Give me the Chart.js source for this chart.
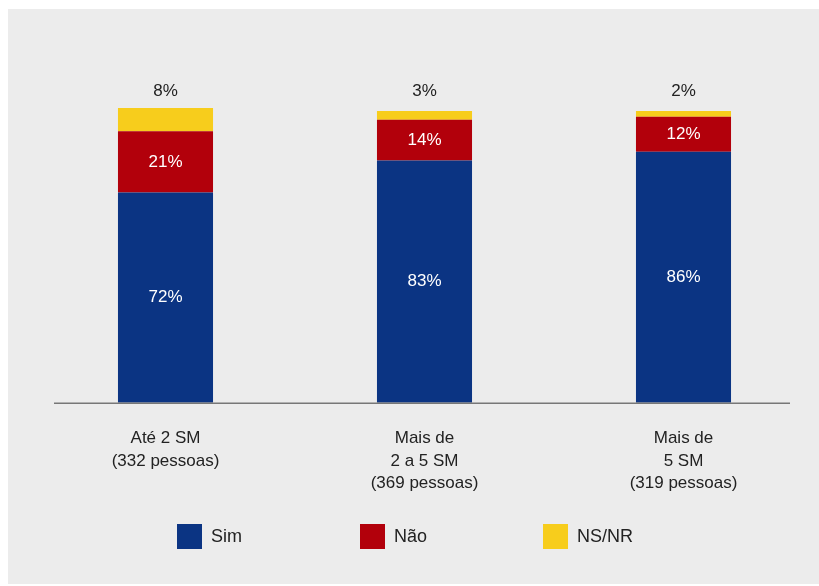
<!DOCTYPE html>
<html>
<head>
<meta charset="UTF-8">
<title>Sim / Não / NS/NR por faixa de renda</title>
<script src="https://cdn.jsdelivr.net/npm/chart.js@4.4.1/dist/chart.umd.min.js"></script>
<style>
body {
  margin: 0;
  background: #ffffff;
  font-family: "Liberation Sans", Arial, Helvetica, sans-serif;
}
#panel {
  position: absolute;
  left: 8px; top: 9px;
  width: 811px; height: 575px;
  background: #ececec;
}
#wrap {
  position: absolute;
  left: 0; top: 0;
  width: 819px; height: 586px;
}
.legend {
  position: absolute;
  top: 524px;
  left: 177px;
  display: flex;
}
.legend div {
  width: 183px;
  display: flex;
  align-items: center;
  font-size: 18px;
  color: #222;
}
.legend span {
  display: inline-block;
  width: 25px; height: 25px;
  margin-right: 9px;
}
</style>
</head>
<body>
<div id="panel"></div>
<div id="wrap"><canvas id="myChart" width="819" height="586"></canvas></div>
<div class="legend" id="legend"></div>
<script>
// categories (income bands) and share of answers, in %
var labels = [
  ["Até 2 SM", "(332 pessoas)"],
  ["Mais de", "2 a 5 SM", "(369 pessoas)"],
  ["Mais de", "5 SM", "(319 pessoas)"]
];
var sim  = [72, 83, 86];
var nao  = [21, 14, 12];
var nsnr = [8, 3, 2];

var names = ["Sim", "Não", "NS/NR"];
var colors = ["#0b3483", "#b2000b", "#f7cd1c"];

// legend drawn as html, same colours as bars
var leg = document.getElementById("legend");
for (var i = 0; i < names.length; i++) {
  leg.innerHTML += '<div><span style="background:' + colors[i] + '"></span>' + names[i] + '</div>';
}

// value labels: inside for Sim/Não, above the bar for NS/NR
var valueLabels = {
  id: "valueLabels",
  afterDatasetsDraw: function(chart) {
    var ctx = chart.ctx;
    var top = chart.chartArea.top;
    ctx.save();
    ctx.font = '17px "Liberation Sans", Arial, sans-serif';
    ctx.textAlign = "center";
    ctx.textBaseline = "middle";
    chart.data.datasets.forEach(function(ds, di) {
      var meta = chart.getDatasetMeta(di);
      meta.data.forEach(function(bar, j) {
        var txt = ds.data[j] + "%";
        if (di < 2) {
          ctx.fillStyle = "#ffffff";
          ctx.fillText(txt, bar.x, (bar.y + bar.base) / 2);
        } else {
          ctx.fillStyle = "#222222";
          ctx.fillText(txt, bar.x, top - 17);
        }
      });
    });
    ctx.restore();
  }
};

// gray baseline under the bars
var baseLine = {
  id: "baseLine",
  afterDatasetsDraw: function(chart) {
    var a = chart.chartArea, ctx = chart.ctx;
    ctx.save();
    ctx.strokeStyle = "#777777";
    ctx.lineWidth = 1.5;
    ctx.beginPath();
    ctx.moveTo(a.left + 18, a.bottom + 0.5);
    ctx.lineTo(a.right - 23, a.bottom + 0.5);
    ctx.stroke();
    ctx.restore();
  }
};

var datasets = [sim, nao, nsnr].map(function(d, i) {
  return {
    label: names[i],
    data: d,
    backgroundColor: colors[i],
    borderWidth: 0,
    categoryPercentage: 1,
    barPercentage: 0.367
  };
});

new Chart(document.getElementById("myChart"), {
  type: "bar",
  data: { labels: labels, datasets: datasets },
  options: {
    responsive: false,
    animation: false,
    layout: { padding: { left: 36, right: 6, top: 108, bottom: 67 } },
    plugins: { legend: { display: false }, tooltip: { enabled: false } },
    scales: {
      x: {
        stacked: true,
        grid: { display: false, drawTicks: false },
        border: { display: false },
        ticks: {
          color: "#222222",
          padding: 25,
          font: { family: '"Liberation Sans", Arial, sans-serif', size: 17, lineHeight: 1.3 }
        }
      },
      y: {
        stacked: true,
        display: false,
        min: 0,
        max: 101
      }
    }
  },
  plugins: [valueLabels, baseLine]
});
</script>
</body>
</html>
